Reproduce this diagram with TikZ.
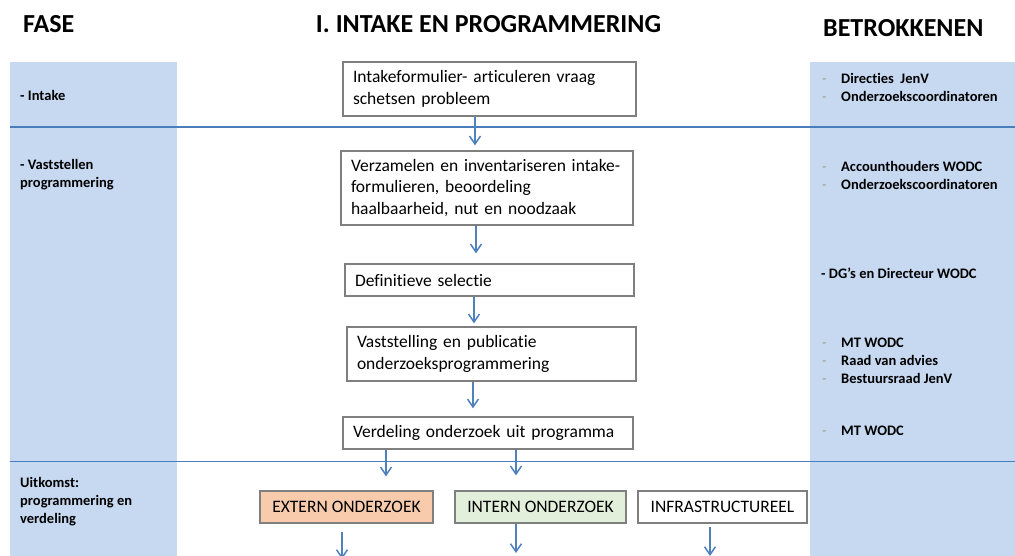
\documentclass[tikz,border=0pt]{standalone}
\usepackage{fontspec}
\setmainfont{Carlito}[Ligatures={NoCommon}]
\usetikzlibrary{arrows.meta}
\definecolor{panel}{HTML}{C6D9F1}
\definecolor{rulec}{HTML}{4A7EBB}
\definecolor{arrowc}{HTML}{4F81BD}
\definecolor{boxline}{HTML}{7F7F7F}
\definecolor{peach}{HTML}{F8CBAD}
\definecolor{mint}{HTML}{E2EFDA}
\definecolor{dashc}{HTML}{9A9A9A}
\newcommand{\bul}{\makebox[19pt][l]{\textcolor{dashc}{\mdseries-}}}
\begin{document}
\begin{tikzpicture}[x=1pt,y=-1pt,
  heading/.style={font=\bfseries\fontsize{26}{30}\selectfont, inner sep=0pt},
  lbl/.style={font=\bfseries\fontsize{14.5}{18}\selectfont, inner sep=0pt, align=left, anchor=west},
  tbox/.style={draw=boxline, line width=1.3pt, fill=white, inner ysep=0pt, inner xsep=10pt,
    align=left, font=\fontsize{17.5}{21.5}\selectfont},
  cbox/.style={draw=boxline, line width=1.3pt, inner sep=0pt, minimum height=32pt,
    font=\fontsize{17.5}{21.5}\selectfont},
  arr/.style={draw=arrowc, line width=1.5pt, -{Straight Barb[length=8pt,width=11pt]}},
  hrule/.style={draw=rulec, line width=1.5pt}
]
\useasboundingbox (0,0) rectangle (1015,556);
\fill[white] (0,0) rectangle (1015,556);
% side panels
\fill[panel] (10,62) rectangle (177,556);
\fill[panel] (810,62) rectangle (1015,556);
% phase rules
\draw[hrule] (10,127) -- (1015,127);
\draw[hrule] (10,461.5) -- (1015,461.5);

% headings
\node[heading, anchor=west] (hfase) at (23,24.5) {FASE};
\node[heading] (htitle) at (488.5,24.5) {I. INTAKE EN PROGRAMMERING};
\node[heading, anchor=west] (hbetr) at (823,28.3) {BETROKKENEN};

% left labels
\node[lbl] (lintake) at (20,95.5) {- Intake};
\node[lbl] (lvast) at (20,175) {- Vaststellen\\programmering};
\node[lbl] (luit) at (20,502) {Uitkomst:\\programmering en\\verdeling};

% right labels
\node[lbl] (r1) at (822,87) {\bul Directies\ \ JenV\\\bul Onderzoekscoordinatoren};
\node[lbl] (r2) at (822,175) {\bul Accounthouders WODC\\\bul Onderzoekscoordinatoren};
\node[lbl] (r3) at (821,273) {- DG’s en Directeur WODC};
\node[lbl] (r4) at (822,360.5) {\bul MT WODC\\\bul Raad van advies\\\bul Bestuursraad JenV};
\node[lbl] (r5) at (822,431) {\bul MT WODC};

% process boxes
\node[tbox, minimum width=293pt, minimum height=54pt, text width=273pt] (b1) at (489.5,89)
  {Intakeformulier- articuleren vraag\\schetsen probleem};
\node[tbox, minimum width=292pt, minimum height=74pt, text width=272pt] (b2) at (487,188)
  {Verzamelen en inventariseren intake-\\formulieren, beoordeling\\haalbaarheid, nut en noodzaak};
\node[tbox, minimum width=289pt, minimum height=32pt, text width=269pt] (b3) at (489.5,280)
  {Definitieve selectie};
\node[tbox, minimum width=289pt, minimum height=54pt, text width=269pt] (b4) at (491.5,354)
  {Vaststelling en publicatie\\onderzoeksprogrammering};
\node[tbox, minimum width=290pt, minimum height=32pt, text width=270pt] (b5) at (488,433)
  {Verdeling onderzoek uit programma};

% outcome boxes
\node[cbox, fill=peach, minimum width=173pt] (ext) at (346.5,507) {EXTERN ONDERZOEK};
\node[cbox, fill=mint, minimum width=171pt] (int) at (540.5,507) {INTERN ONDERZOEK};
\node[cbox, fill=white, minimum width=169pt] (inf) at (722.5,507) {INFRASTRUCTUREEL};

% free ends of bottom arrows
\coordinate (eext) at (342,559);
\coordinate (eint) at (516,553);
\coordinate (einf) at (710,556);

% connectors
\draw[arr, shorten >=5pt] ([xshift=-14.5pt]b1.south) -- ([xshift=-12pt]b2.north);
\draw[arr, shorten >=10pt] ([xshift=-11pt]b2.south) -- ([xshift=-13.5pt]b3.north);
\draw[arr, shorten >=3pt] ([xshift=-15.5pt]b3.south) -- ([xshift=-17.5pt]b4.north);
\draw[arr, shorten >=8pt] ([xshift=-18.5pt]b4.south) -- ([xshift=-15pt]b5.north);
\draw[arr, shorten >=14pt] ([xshift=-102pt]b5.south) -- ([xshift=39.5pt]ext.north);
\draw[arr, shorten >=15pt] ([xshift=28pt]b5.south) -- ([xshift=-24.5pt]int.north);
\draw[arr, shorten <=8pt] ([xshift=-4.5pt]ext.south) -- (eext);
\draw[arr] ([xshift=-24.5pt]int.south) -- (eint);
\draw[arr, shorten <=3pt] ([xshift=-12.5pt]inf.south) -- (einf);
\end{tikzpicture}
\end{document}
